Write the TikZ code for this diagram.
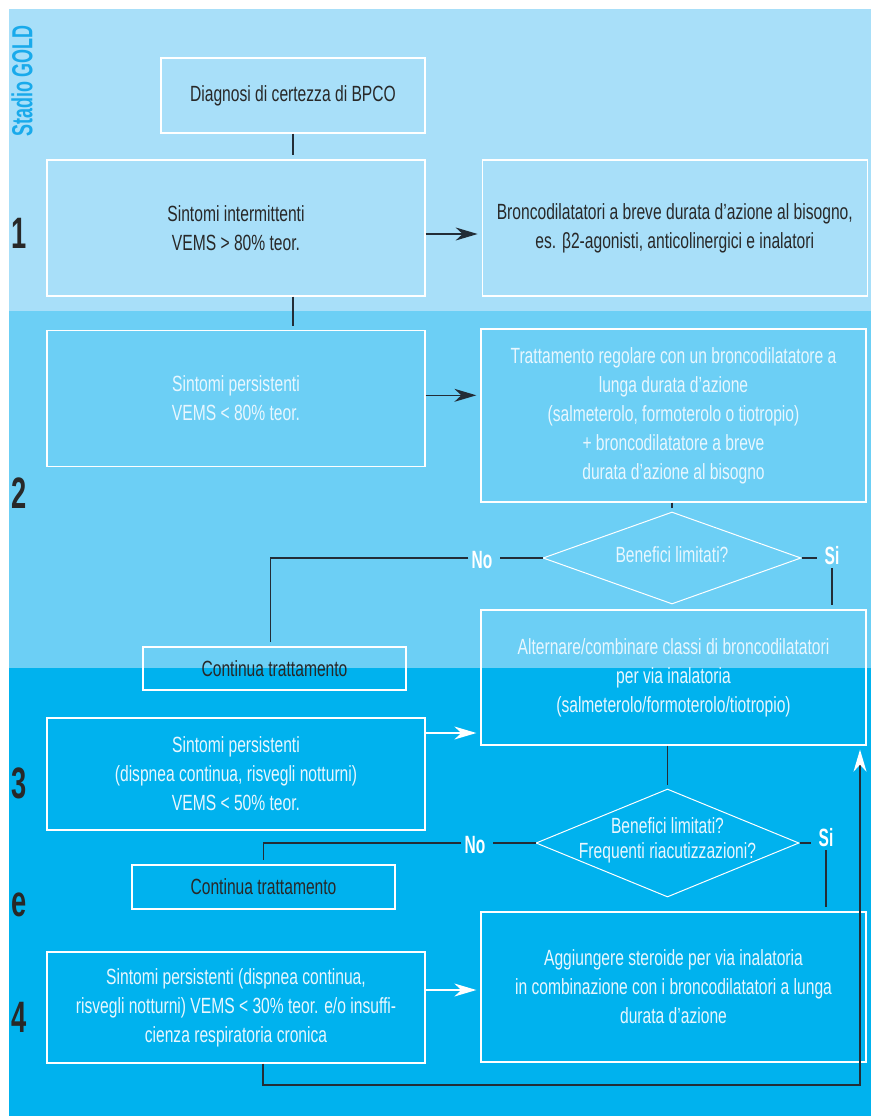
\documentclass[tikz,border=0pt]{standalone}
\usepackage{fontspec}
\setmainfont{Liberation Sans}[FakeStretch=0.71]
\newfontfamily\goldfont{Liberation Sans}[FakeStretch=0.62]
\usetikzlibrary{arrows.meta,positioning,shapes.geometric}
\definecolor{bandtop}{RGB}{168,223,249}
\definecolor{bandmid}{RGB}{108,207,245}
\definecolor{bandlow}{RGB}{0,178,238}
\definecolor{goldblue}{RGB}{25,170,235}
\definecolor{txtdark}{RGB}{40,40,40}
\definecolor{txtlight}{RGB}{232,247,255}
\definecolor{linec}{RGB}{35,45,55}
\newcommand{\boxtxt}{\fontsize{22}{29}\selectfont}

\begin{document}
\begin{tikzpicture}[x=1pt, y=-1pt,
    >={Stealth[length=22pt,width=13pt,inset=7pt]},
    box/.style={draw=white, line width=1.3pt, inner sep=0pt, align=center, font=\boxtxt},
    dark/.style={text=txtdark},
    light/.style={text=txtlight},
    decision/.style={diamond, draw=white, line width=1pt, inner sep=0pt},
    answer/.style={font=\goldfont\bfseries\fontsize{25}{25}\selectfont, text=white, inner sep=3pt},
    stage/.style={font=\goldfont\bfseries\fontsize{44}{44}\selectfont, text=txtdark, inner sep=0pt},
    conn/.style={draw=linec, line width=1.4pt, shorten >=4pt},
    wconn/.style={draw=white, line width=1.4pt, shorten >=4pt}
    ]
\useasboundingbox (0,0) rectangle (871,1116);
\fill[bandtop] (9,9) rectangle (871,311);
\fill[bandmid] (9,311) rectangle (871,668);
\fill[bandlow] (9,668) rectangle (871,1116);

\node[rotate=90, font=\goldfont\bfseries\fontsize{29}{29}\selectfont, text=goldblue, inner sep=0pt] (gold) at (22,81) {Stadio GOLD};
\node[stage] (n1) at (19,233) {1};
\node[stage] (n2) at (19,493) {2};
\node[stage] (n3) at (19,783) {3};
\node[stage] (ne) at (19,905) {e};
\node[stage] (n4) at (19,1017) {4};

\node[box, dark, minimum width=264pt, minimum height=75pt] (diag) at (293,95.5) {Diagnosi di certezza di BPCO};
\node[box, dark, minimum width=378pt, minimum height=136pt] (s1) at (236,228) {Sintomi intermittenti\\VEMS > 80\% teor.};
\node[box, dark, minimum width=385pt, minimum height=136pt, right=56pt of s1] (b1) {Broncodilatatori a breve durata d’azione al bisogno,\\es. β2-agonisti, anticolinergici e inalatori};
\node[box, light, minimum width=378pt, minimum height=136pt, below=33pt of s1] (s2) {Sintomi persistenti\\VEMS < 80\% teor.};
\node[box, light, minimum width=385pt, minimum height=173pt] (t2) at (673.5,415.5) {Trattamento regolare con un broncodilatatore a\\lunga durata d’azione\\(salmeterolo, formoterolo o tiotropio)\\+ broncodilatatore a breve\\durata d’azione al bisogno};
\node[decision, minimum width=258pt, minimum height=92pt] (d1) at (672,558) {};
\node[light, font=\boxtxt] (d1t) at (672,555) {Benefici limitati?};
\node[answer] (no1) at (482,560) {No};
\node[answer] (si1) at (832,556) {Si};
\node[box, dark, minimum width=263pt, minimum height=43pt] (cont1) at (274.5,668.5) {Continua trattamento};
\node[box, light, minimum width=385pt, minimum height=135pt] (a2) at (673.5,677.5) {Alternare/combinare classi di broncodilatatori\\per via inalatoria\\(salmeterolo/formoterolo/tiotropio)};
\node[box, light, minimum width=378pt, minimum height=112pt] (s3) at (236,774) {Sintomi persistenti\\(dispnea continua, risvegli notturni)\\VEMS < 50\% teor.};
\node[decision, minimum width=263pt, minimum height=108pt] (d2) at (667.5,843) {};
\node[light, align=center, font=\fontsize{22}{25}\selectfont] (d2t) at (667.5,840) {Benefici limitati?\\Frequenti riacutizzazioni?};
\node[answer] (no2) at (475,845) {No};
\node[answer] (si2) at (826,838) {Si};
\node[box, dark, minimum width=263pt, minimum height=44pt] (cont2) at (263.5,887) {Continua trattamento};
\node[box, light, minimum width=378pt, minimum height=111pt] (s4) at (236,1007.5) {Sintomi persistenti (dispnea continua,\\risvegli notturni) VEMS < 30\% teor. e/o insuffi-\\cienza respiratoria cronica};
\node[box, light, minimum width=385pt, minimum height=150pt] (e4) at (673.5,987) {Aggiungere steroide per via inalatoria\\in combinazione con i broncodilatatori a lunga\\durata d’azione};

\draw[conn] (diag) -- (diag |- s1.north);
\draw[conn] (diag |- s1.south) -- (diag |- s2.north);
\draw[conn,->] ([yshift=-6pt]s1.east) -- ([yshift=-6pt]s1.east -| b1.west);
\draw[conn,->] ([yshift=3pt]s2.east) -- ([yshift=3pt]s2.east -| t2.west);
\draw[conn] (t2.south -| d1.north) -- (d1.north);
\draw[conn] (d1.west) -- (d1.west -| no1.east);
\draw[conn] (no1.west |- d1.west) -| ([xshift=-4pt]cont1.north);
\draw[conn] (d1.east) -- (d1.east -| si1.west);
\draw[conn] (si1.south) -- (si1.south |- a2.north);
\draw[conn] (d2.north |- a2.south) -- (d2.north);
\draw[wconn,->] ([yshift=41pt]s3.east) -- ([yshift=41pt]s3.east -| a2.west);
\draw[conn] (d2.west) -- (d2.west -| no2.east);
\draw[conn] (no2.west |- d2.west) -| (cont2.north);
\draw[conn] (d2.east) -- (d2.east -| si2.west);
\draw[conn] (si2.south) -- (si2.south |- e4.north);
\draw[wconn,->] ([yshift=17.5pt]s4.east) -- ([yshift=17.5pt]s4.east -| e4.west);
\coordinate (back) at (860,1085);
\draw[conn,-{Stealth[length=22pt,width=13pt,inset=7pt,color=white]}] ([xshift=27pt]s4.south) |- (back) -- (back |- a2.south);
\end{tikzpicture}
\end{document}
